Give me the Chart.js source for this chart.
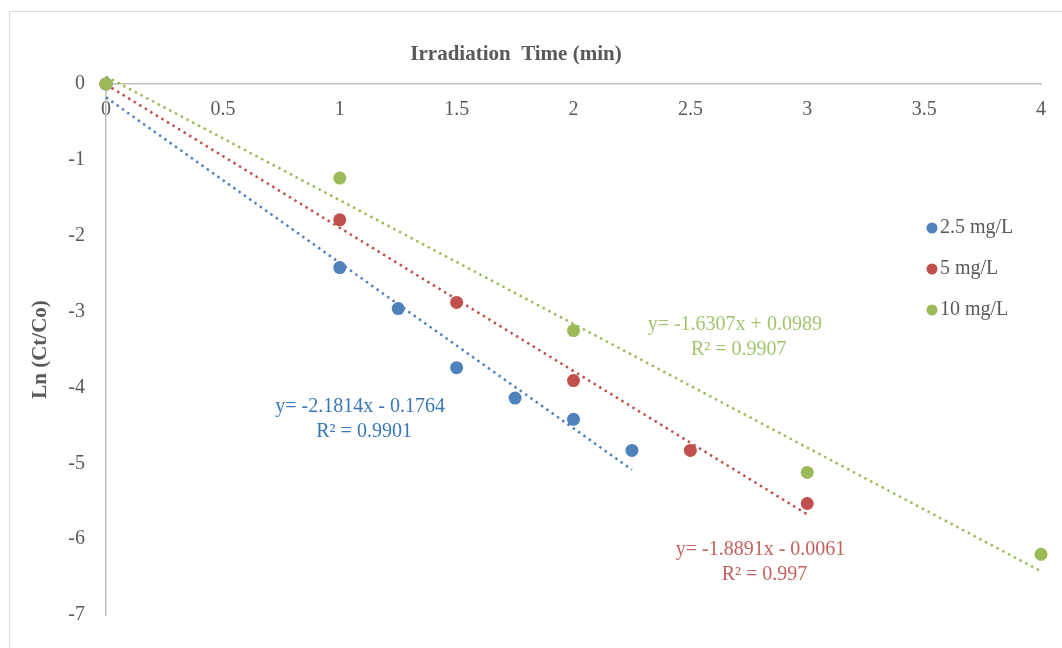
<!DOCTYPE html>
<html>
<head>
<meta charset="utf-8">
<script src="https://cdn.jsdelivr.net/npm/chart.js@4.4.1/dist/chart.umd.min.js"></script>
<style>
  html, body { margin: 0; padding: 0; background: #fff; }
  #frame { position: absolute; left: 9px; top: 11px; width: 1100px; height: 700px;
           border-left: 1px solid #d9d9d9; border-top: 1px solid #d9d9d9; }
  #wrap { position: absolute; left: 0; top: 0; width: 1062px; height: 648px; }
</style>
</head>
<body>
<div id="frame"></div>
<div id="wrap"><canvas id="kineticsChart"></canvas></div>
<script>
const seriesLabels = ['2.5 mg/L', '5 mg/L', '10 mg/L'];

const time25 = [0, 1, 1.25, 1.5, 1.75, 2, 2.25];
const ln25 = [0, -2.42, -2.96, -3.74, -4.14, -4.42, -4.83];

const time5 = [0, 1, 1.5, 2, 2.5, 3];
const ln5 = [0, -1.79, -2.88, -3.91, -4.83, -5.53];

const time10 = [0, 1, 2, 3, 4];
const ln10 = [0, -1.24, -3.25, -5.12, -6.2];

// linear trendlines as printed on the chart
const slopes = [-2.1814, -1.8891, -1.6307];
const intercepts = [-0.1764, -0.0061, 0.0989];
const rSquared = ['0.9901', '0.997', '0.9907'];

// where each equation label sits (data units)
const labelAnchors = [[1.087, -4.26], [2.8, -6.14], [2.69, -3.17]];

const pointColors = ['#4F81BD', '#C0504D', '#9BBB59'];
const eqColors = ['#3A78B5', '#C4605E', '#A3C46E'];
const textColor = '#595959';
const fontFamily = '"Liberation Serif", "Times New Roman", serif';

const times = [time25, time5, time10];
const values = [ln25, ln5, ln10];

function toPoints(xs, ys) {
  return xs.map((x, i) => ({ x, y: ys[i] }));
}

function trendPoints(i) {
  const xs = [times[i][0], times[i][times[i].length - 1]];
  return xs.map((x) => ({ x, y: slopes[i] * x + intercepts[i] }));
}

function equationText(i) {
  const sign = intercepts[i] < 0 ? '-' : '+';
  return `y= ${slopes[i]}x ${sign} ${Math.abs(intercepts[i])}`;
}

const pointSets = [2, 1, 0].map((i) => ({
  type: 'scatter',
  label: seriesLabels[i],
  data: toPoints(times[i], values[i]),
  backgroundColor: pointColors[i],
  borderWidth: 0,
  pointRadius: 6.5,
  pointHoverRadius: 6.5,
  clip: false,
  order: 3 - i,
}));

const trendSets = [0, 1, 2].map((i) => ({
  type: 'line',
  label: `Linear (${seriesLabels[i]})`,
  data: trendPoints(i),
  borderColor: pointColors[i],
  borderWidth: 2.5,
  borderDash: [2.5, 4],
  pointRadius: 0,
  fill: false,
  clip: false,
  order: 10 + i,
}));

const sideLegend = {
  id: 'sideLegend',
  afterDraw(chart) {
    const { ctx } = chart;
    ctx.save();
    ctx.font = `20px ${fontFamily}`;
    ctx.textBaseline = 'middle';
    ctx.textAlign = 'left';
    seriesLabels.forEach((label, i) => {
      const y = 228 + i * 41;
      ctx.fillStyle = pointColors[i];
      ctx.beginPath();
      ctx.arc(932, y, 5.5, 0, Math.PI * 2);
      ctx.fill();
      ctx.fillStyle = textColor;
      ctx.fillText(label, 940, y);
    });
    ctx.restore();
  },
};

const equationLabels = {
  id: 'equationLabels',
  afterDraw(chart) {
    const { ctx, scales } = chart;
    ctx.save();
    ctx.font = `20px ${fontFamily}`;
    ctx.textBaseline = 'middle';
    ctx.textAlign = 'center';
    labelAnchors.forEach(([ax, ay], i) => {
      const px = scales.x.getPixelForValue(ax);
      const py = scales.y.getPixelForValue(ay);
      ctx.fillStyle = eqColors[i];
      ctx.fillText(equationText(i), px, py);
      ctx.fillText(`R² = ${rSquared[i]}`, px + 4, py + 25);
    });
    // x axis title, Excel places it above the plot
    ctx.font = `bold 21px ${fontFamily}`;
    ctx.fillStyle = textColor;
    ctx.fillText('Irradiation  Time (min)', 516, 55);
    ctx.restore();
  },
};

new Chart(document.getElementById('kineticsChart'), {
  type: 'scatter',
  data: { datasets: [...pointSets, ...trendSets] },
  options: {
    responsive: true,
    maintainAspectRatio: false,
    animation: false,
    layout: { padding: { top: 84, right: 21, bottom: 6, left: 0 } },
    plugins: {
      legend: { display: false },
      tooltip: { enabled: false },
    },
    scales: {
      x: {
        type: 'linear',
        position: { y: 0 },
        min: 0,
        max: 4,
        ticks: {
          stepSize: 0.5,
          padding: 14,
          color: textColor,
          font: { family: fontFamily, size: 20 },
          callback: (value) => String(value),
        },
        grid: { display: false, drawTicks: false },
        border: { color: '#BFBFBF', width: 1.5 },
        afterFit: (scale) => { scale.height = 25; },
      },
      y: {
        min: -7,
        max: 0,
        ticks: { stepSize: 1, padding: 21, color: textColor, font: { family: fontFamily, size: 20 } },
        grid: { display: false, drawTicks: false },
        border: { color: '#BFBFBF', width: 1.5 },
        title: {
          display: true,
          text: 'Ln (Ct/Co)',
          color: textColor,
          font: { family: fontFamily, size: 21, weight: 'bold' },
          padding: { top: 28, bottom: 0 },
        },
        afterFit: (scale) => { scale.width = 106; },
      },
    },
  },
  plugins: [sideLegend, equationLabels],
});
</script>
</body>
</html>
